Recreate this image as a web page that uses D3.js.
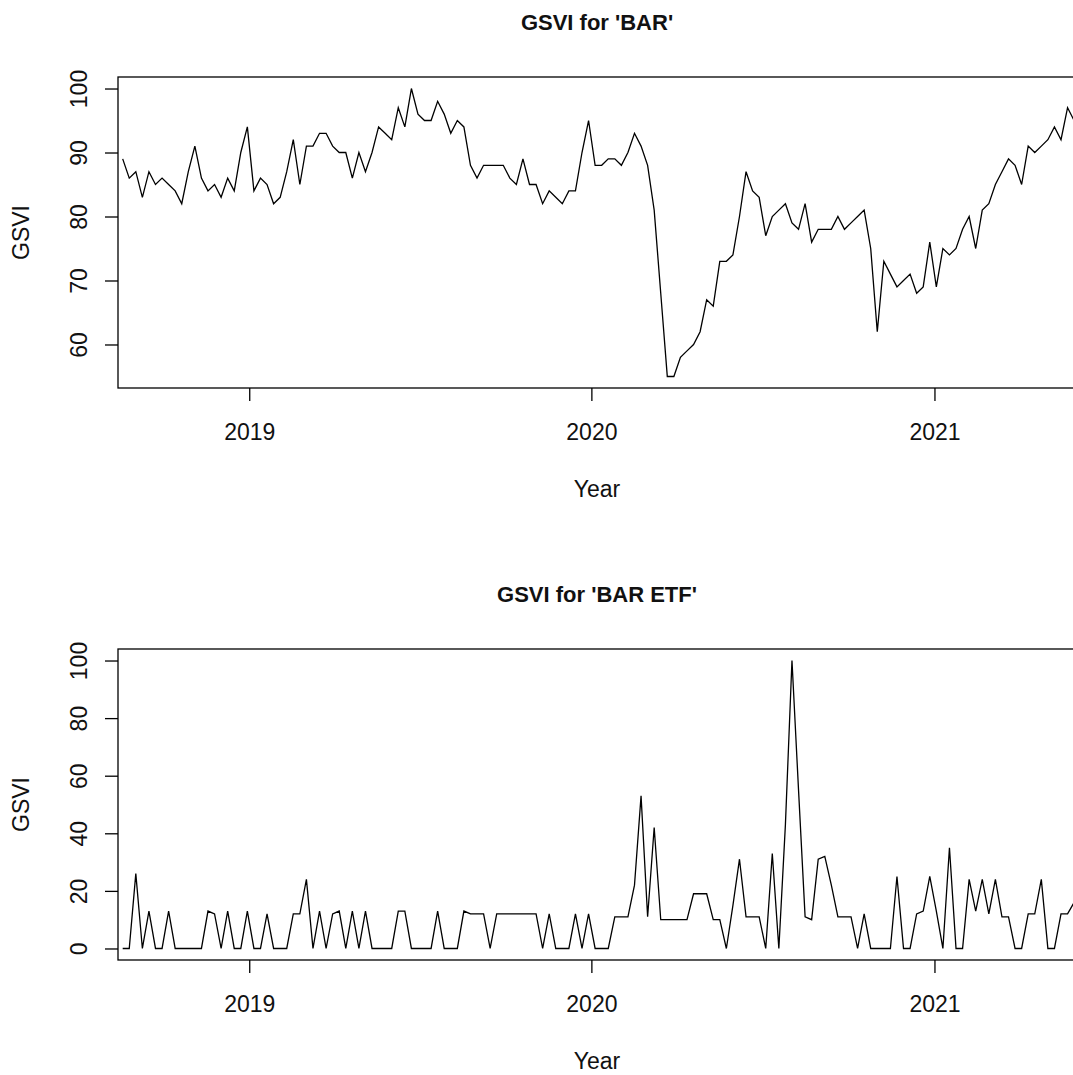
<!DOCTYPE html>
<html>
<head>
<meta charset="utf-8">
<script src="https://cdn.jsdelivr.net/npm/d3@7"></script>
<style>
  html, body { margin: 0; padding: 0; background: #fff; overflow: hidden; }
</style>
</head>
<body>
<script>
// Weekly Google Search Volume Index, weeks starting on Sunday
const startWeek = new Date(2018, 7, 19);

const barValues = [
  89, 86, 87, 83, 87, 85, 86, 85, 84, 82, 87, 91, 86, 84, 85, 83, 86, 84, 90, 94,
  84, 86, 85, 82, 83, 87, 92, 85, 91, 91, 93, 93, 91, 90, 90, 86, 90,
  87, 90, 94, 93, 92, 97, 94, 100, 96, 95, 95, 98, 96, 93, 95, 94, 88, 86, 88,
  88, 88, 88, 86, 85, 89, 85, 85, 82, 84, 83, 82, 84, 84, 90, 95,
  88, 88, 89, 89, 88, 90, 93, 91, 88, 81, 68, 55, 55, 58, 59, 60, 62, 67, 66, 73,
  73, 74, 80, 87, 84, 83, 77, 80, 81, 82, 79, 78, 82, 76, 78, 78, 78, 80,
  78, 79, 80, 81, 75, 62, 73, 71, 69, 70, 71, 68, 69, 76, 69, 75, 74, 75, 78, 80,
  75, 81, 82, 85, 87, 89, 88, 85, 91, 90, 91, 92, 94, 92, 97, 95
];

const etfValues = [
  0, 0, 26, 0, 13, 0, 0, 13, 0, 0, 0, 0, 0, 13, 12, 0, 13, 0, 0, 13,
  0, 0, 12, 0, 0, 0, 12, 12, 24, 0, 13, 0, 12, 13, 0, 13, 0,
  13, 0, 0, 0, 0, 13, 13, 0, 0, 0, 0, 13, 0, 0, 0, 13, 12, 12, 12, 0,
  12, 12, 12, 12, 12, 12, 12, 0, 12, 0, 0, 0, 12, 0, 12, 0,
  0, 0, 11, 11, 11, 22, 53, 11, 42, 10, 10, 10, 10, 10, 19, 19, 19, 10, 10, 0,
  15, 31, 11, 11, 11, 0, 33, 0, 43, 100, 55, 11, 10, 31, 32, 22, 11,
  11, 11, 0, 12, 0, 0, 0, 0, 25, 0, 0, 12, 13, 25, 13, 0, 35, 0, 0, 24,
  13, 24, 12, 24, 11, 11, 0, 0, 12, 12, 24, 0, 0, 12, 12, 16
];

const yearTicks = ["2019-01-01", "2020-01-01", "2021-01-01"];
const barTicks = [60, 70, 80, 90, 100];
const etfTicks = [0, 20, 40, 60, 80, 100];
const panelTitles = ["GSVI for 'BAR'", "GSVI for 'BAR ETF'"];
const xTitle = "Year";
const yTitle = "GSVI";

const W = 1073, H = 1075;
const FONT = "'Liberation Sans', Arial, Helvetica, sans-serif";
const box = { left: 118, right: 1076, top: 77, bottom: 388 };
const panelOffset = 572;

const svg = d3.select("body").append("svg")
  .attr("width", W).attr("height", H)
  .style("display", "block")
  .style("font-family", FONT);

// shared time axis for both panels
const x = d3.scaleTime()
  .domain([new Date(2018, 7, 14), new Date(2021, 5, 1)])
  .range([box.left, box.right]);

const yearDates = yearTicks.map(s => d3.timeParse("%Y-%m-%d")(s));

function drawPanel(values, ticks, title, top) {
  const g = svg.append("g").attr("transform", `translate(0,${top})`);
  const dates = d3.timeWeek.range(startWeek, d3.timeWeek.offset(startWeek, values.length));
  const data = values.map((v, i) => ({ date: dates[i], value: v }));

  // y range padded by 4% like a default base plot
  const [lo, hi] = d3.extent(values);
  const pad = (hi - lo) * 0.04;
  const y = d3.scaleLinear().domain([lo - pad, hi + pad]).range([box.bottom, box.top]);

  // series line
  g.append("path")
    .datum(data)
    .attr("fill", "none")
    .attr("stroke", "#000")
    .attr("stroke-width", 1.3)
    .attr("stroke-linejoin", "miter")
    .attr("d", d3.line().x(d => x(d.date)).y(d => y(d.value)));

  // frame
  g.append("rect")
    .attr("x", box.left).attr("y", box.top)
    .attr("width", box.right - box.left).attr("height", box.bottom - box.top)
    .attr("fill", "none").attr("stroke", "#000").attr("stroke-width", 1.3);

  // left axis with labels turned parallel to the axis
  const ya = g.append("g").attr("transform", `translate(${box.left},0)`)
    .call(d3.axisLeft(y).tickValues(ticks).tickSize(13).tickSizeOuter(0));
  ya.select(".domain").remove();
  ya.selectAll(".tick line").attr("stroke", "#000").attr("stroke-width", 1.3);
  ya.selectAll(".tick text")
    .attr("transform", "rotate(-90)")
    .attr("x", 0).attr("y", -31).attr("dy", 0)
    .attr("text-anchor", "middle")
    .attr("fill", "#111")
    .style("font-size", "23px").style("font-family", FONT);

  // bottom axis
  const xa = g.append("g").attr("transform", `translate(0,${box.bottom})`)
    .call(d3.axisBottom(x).tickValues(yearDates).tickSize(13).tickSizeOuter(0)
      .tickFormat(d3.timeFormat("%Y")));
  xa.select(".domain").remove();
  xa.selectAll(".tick line").attr("stroke", "#000").attr("stroke-width", 1.3);
  xa.selectAll(".tick text")
    .attr("y", 52).attr("dy", 0)
    .attr("fill", "#111")
    .style("font-size", "23px").style("font-family", FONT);

  // titles
  const cx = (box.left + box.right) / 2;
  g.append("text")
    .attr("x", cx).attr("y", 30)
    .attr("text-anchor", "middle")
    .attr("font-weight", "bold")
    .attr("font-size", 22)
    .attr("fill", "#111")
    .text(title);

  g.append("text")
    .attr("x", cx).attr("y", 497)
    .attr("text-anchor", "middle")
    .attr("font-size", 23)
    .attr("fill", "#111")
    .text(xTitle);

  g.append("text")
    .attr("transform", `translate(29,${(box.top + box.bottom) / 2}) rotate(-90)`)
    .attr("text-anchor", "middle")
    .attr("font-size", 23)
    .attr("fill", "#111")
    .text(yTitle);
}

drawPanel(barValues, barTicks, panelTitles[0], 0);
drawPanel(etfValues, etfTicks, panelTitles[1], panelOffset);
</script>
</body>
</html>
